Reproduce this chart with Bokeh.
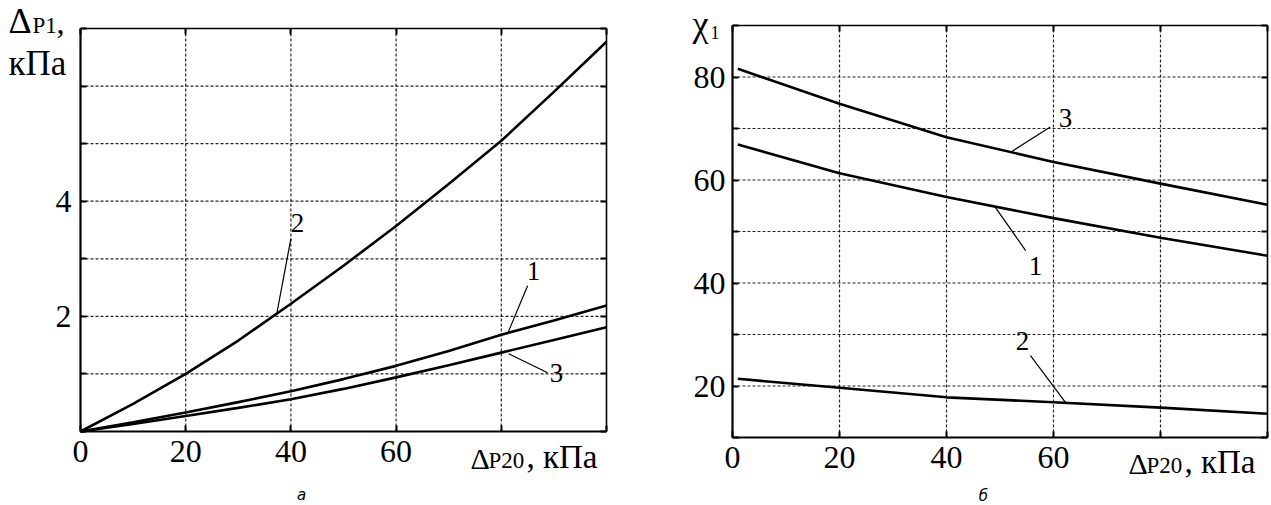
from bokeh.plotting import figure
from bokeh.layouts import row
from bokeh.models import FixedTicker, Range1d, Label, LinearAxis
from bokeh.embed import file_html
from bokeh.resources import INLINE

# ---------- panel "а": ΔP1 vs ΔP20 ----------
a_x = [0, 10, 20, 30, 40, 50, 60, 70, 80, 90, 100]
a_curve1 = [0, 0.16, 0.33, 0.51, 0.70, 0.91, 1.14, 1.40, 1.68, 1.93, 2.19]
a_curve2 = [0, 0.48, 1.00, 1.58, 2.22, 2.88, 3.57, 4.30, 5.05, 5.90, 6.77]
a_curve3 = [0, 0.13, 0.27, 0.41, 0.56, 0.74, 0.94, 1.15, 1.37, 1.59, 1.81]
a_xticks = [0, 20, 40, 60, 80, 100]
a_xlabels = ["0", "20", "40", "60", "", ""]
a_yticks = [0, 1, 2, 3, 4, 5, 6, 7]
a_ylabels = ["", "", "2", "", "4", "", "", ""]

# ---------- panel "б": χ1 vs ΔP20 ----------
b_x = [1, 20, 40, 60, 80, 100]
b_curve1 = [66.9, 61.3, 56.7, 52.6, 48.8, 45.3]
b_curve2 = [21.4, 19.65, 17.8, 16.85, 15.8, 14.6]
b_curve3 = [81.6, 74.8, 68.3, 63.5, 59.3, 55.2]
b_xticks = [0, 20, 40, 60, 80, 100]
b_xlabels = ["0", "20", "40", "60", "", ""]
b_yticks = [10, 20, 30, 40, 50, 60, 70, 80, 90]
b_ylabels = ["", "20", "", "40", "", "60", "", "80", ""]

curve_names = ["1", "2", "3"]

SERIF = "Liberation Serif"
H = 505


class Panel:
    """A figure whose frame is the whole canvas; the plot box sits inside it."""

    def __init__(self, w, box, xr, yr, page_x0):
        l, r, t, b = box
        self.kx = (r - l) / (xr[1] - xr[0])
        self.ky = (b - t) / (yr[1] - yr[0])
        self.xs = xr[0] - l / self.kx
        xe = xr[1] + (w - r) / self.kx
        ys = yr[0] - (H - b) / self.ky
        self.ye = yr[1] + t / self.ky
        self.page_x0 = page_x0
        self.xr, self.yr = xr, yr
        p = figure(width=w, height=H, x_range=Range1d(self.xs, xe),
                   y_range=Range1d(ys, self.ye), x_axis_location=None,
                   y_axis_location=None, output_backend="svg",
                   toolbar_location=None, min_border=0)
        p.outline_line_color = None
        p.xgrid.grid_line_color = None
        p.ygrid.grid_line_color = None
        p.background_fill_color = "white"
        p.border_fill_color = "white"
        self.p = p

    def d(self, px, py):
        """page pixel -> data coordinates"""
        return (self.xs + (px - self.page_x0) / self.kx, self.ye - py / self.ky)

    def axes(self, xt, xl, yt, yl, xgrid, ygrid, xstand, ystand):
        p = self.p
        x0, x1 = self.xr
        y0, y1 = self.yr
        for g in xgrid:
            p.line([g, g], [y0, y1], line_color="black", line_dash="3 2",
                   line_width=1.2, line_alpha=0.85)
        for g in ygrid:
            p.line([x0, x1], [g, g], line_color="black", line_dash="3 2",
                   line_width=1.2, line_alpha=0.85)

        def mk(loc, ticks, labels, bounds, width, stand):
            ax = LinearAxis(fixed_location=loc, ticker=FixedTicker(ticks=ticks),
                            bounds=bounds)
            ax.major_label_overrides = {t: s for t, s in zip(ticks, labels)}
            ax.axis_line_width = width
            ax.axis_line_color = "black"
            ax.major_tick_in = 6
            ax.major_tick_out = 0
            ax.major_tick_line_width = 2
            ax.minor_tick_line_color = None
            ax.major_label_text_font = SERIF
            ax.major_label_text_font_size = "32px"
            ax.major_label_text_color = "black"
            ax.major_label_standoff = stand
            return ax

        p.add_layout(mk(y0, xt, xl, (x0, x1), 2.2, xstand), "below")
        p.add_layout(mk(x0, yt, yl, (y0, y1), 2.2, ystand), "left")
        p.add_layout(mk(y1, xt, [""] * len(xt), (x0, x1), 1.6, 0), "above")
        p.add_layout(mk(x1, yt, [""] * len(yt), (y0, y1), 1.6, 0), "right")

    def text(self, px, py, text, size, align="left", centred=False,
             style_="normal", font=SERIF):
        # py is the baseline unless centred; convert baseline to box middle
        ymid = py if centred else py - 0.34 * size
        x, y = self.d(px, ymid)
        self.p.add_layout(Label(x=x, y=y, text=text, text_font=font,
                                text_font_size=f"{size}px", text_font_style=style_,
                                text_color="black", text_align=align,
                                text_baseline="middle"))

    def leader(self, pts_x, pts_y):
        self.p.line(pts_x, pts_y, line_color="black", line_width=1.2)


# ---------------- panel a ----------------
A = Panel(648, (80, 606, 28, 431), (0, 100), (0, 7), 0)
A.axes(a_xticks, a_xlabels, a_yticks, a_ylabels, [20, 40, 60, 80],
       [1, 2, 3, 4, 5, 6], 9, 9)
for ys in (a_curve1, a_curve2, a_curve3):
    A.p.line(a_x, ys, line_color="black", line_width=2.6)

A.leader([40.0, 37.3], [3.35, 2.04])
A.leader([85.0, 81.2], [2.53, 1.70])
A.leader([81.4, 88.8], [1.35, 1.02])
A.text(297, 222, curve_names[1], 27, align="center", centred=True)
A.text(533, 270, curve_names[0], 27, align="center", centred=True)
A.text(556, 372, curve_names[2], 27, align="center", centred=True)

A.text(470, 468, "Δ", 30)
A.text(488, 468, "P20", 23)
A.text(526, 468, ", кПа", 33)
A.text(8, 33, "Δ", 36)
A.text(32, 33, "P1", 23)
A.text(56, 33, ",", 32)
A.text(8, 75, "кПа", 35)
A.text(301, 500, "а", 15, align="center", style_="italic", font="DejaVu Sans")

# ---------------- panel b ----------------
B = Panel(622, (84, 619, 25, 437), (0, 100), (10, 90), 648)
B.axes(b_xticks, b_xlabels, b_yticks, b_ylabels, [20, 40, 60, 80],
       [20, 30, 40, 50, 60, 70, 80], 9, 7)
for ys in (b_curve1, b_curve2, b_curve3):
    B.p.line(b_x, ys, line_color="black", line_width=2.6)

B.leader([59.4, 52.0], [70.3, 65.4])
B.leader([54.8, 49.2], [46.3, 54.6])
B.leader([55.7, 62.2], [25.9, 16.85])
B.text(1065, 117, curve_names[2], 27, align="center", centred=True)
B.text(1035, 265, curve_names[0], 27, align="center", centred=True)
B.text(1022, 340, curve_names[1], 27, align="center", centred=True)

B.text(1128, 473, "Δ", 30)
B.text(1146, 473, "P20", 23)
B.text(1184, 473, ", кПа", 33)
B.text(692, 36, "χ", 36)
B.text(710, 38, "1", 18)
B.text(983, 501, "б", 15, align="center", style_="italic", font="DejaVu Sans")

layout = row(A.p, B.p)
open("out.html", "w").write(file_html(layout, INLINE))
